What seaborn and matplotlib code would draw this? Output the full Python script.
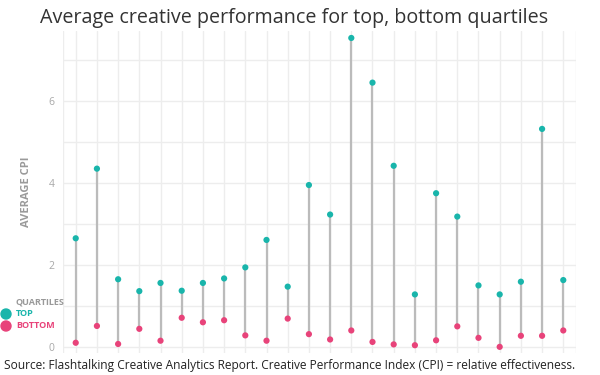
import matplotlib
matplotlib.use("Agg")
import matplotlib.pyplot as plt
import seaborn as sns
import pandas as pd
import numpy as np

# ---- data ----
creatives = list(range(1, 25))
top_cpi = [2.65, 4.35, 1.65, 1.36, 1.56, 1.37, 1.56, 1.67, 1.94, 2.61, 1.47, 3.95,
           3.23, 7.54, 6.45, 4.42, 1.28, 3.75, 3.18, 1.50, 1.28, 1.59, 5.32, 1.63]
bottom_cpi = [0.10, 0.51, 0.07, 0.44, 0.15, 0.71, 0.60, 0.65, 0.28, 0.15, 0.69, 0.31,
              0.18, 0.40, 0.12, 0.06, 0.04, 0.16, 0.50, 0.22, 0.00, 0.27, 0.27, 0.40]
quartiles = ["TOP", "BOTTOM"]
y_ticks = [0, 2, 4, 6]

TEAL = "#19B5AB"
PINK = "#E8437A"
GRID = "#EDEDED"
FONT = ["Open Sans", "DejaVu Sans"]

sns.set_theme(style="white")
plt.rcParams["font.family"] = FONT

df = pd.DataFrame({
    "creative": creatives * 2,
    "cpi": top_cpi + bottom_cpi,
    "quartile": [quartiles[0]] * len(creatives) + [quartiles[1]] * len(creatives),
})

fig = plt.figure(figsize=(6, 3.75), dpi=100)
W, H = 600, 375
left_px, right_px, top_px, bot_px = 63, 576, 31, 353
ax = fig.add_axes([left_px / W, 1 - bot_px / H, (right_px - left_px) / W, (bot_px - top_px) / H])

# grid
for v in range(0, 8):
    ax.axhline(v, color=GRID, lw=1.0, zorder=0)
for c in creatives:
    ax.axvline(c, color=GRID, lw=1.0, zorder=0)
ax.axvline(creatives[0] - 0.6, color=GRID, lw=1.0, zorder=0)
ax.axvline(creatives[-1] + 0.6, color=GRID, lw=1.0, zorder=0)

# stems
ax.vlines(creatives, bottom_cpi, top_cpi, color="#BBBBBB", lw=1.6, zorder=1)

sns.scatterplot(data=df, x="creative", y="cpi", hue="quartile",
                palette={quartiles[0]: TEAL, quartiles[1]: PINK},
                s=20, edgecolor="none", ax=ax, zorder=3, legend=False)

ax.set_xlim(creatives[0] - 0.6, creatives[-1] + 0.6)
ax.set_ylim(-0.15, 7.71)
ax.set_xticks([])
ax.set_yticks(y_ticks)
ax.set_yticklabels([str(t) for t in y_ticks], color="#A8A8A8", fontsize=7.5)
ax.tick_params(axis="y", length=0, pad=6)
ax.set_xlabel("")
ax.set_ylabel("AVERAGE CPI", color="#9A9A9A", fontsize=8, fontweight="bold", labelpad=12)
for s in ax.spines.values():
    s.set_visible(False)

fig.text(0.49, 1 - 18 / H, "Average creative performance for top, bottom quartiles",
         ha="center", va="center", fontsize=14.2, color="#333333")
fig.text(4 / W, 1 - 365 / H,
         "Source: Flashtalking Creative Analytics Report. Creative Performance Index (CPI) = relative effectiveness.",
         ha="left", va="center", fontsize=8.6, color="#222222")

# legend
fig.text(16 / W, 1 - 302 / H, "QUARTILES", ha="left", va="center", fontsize=6.5,
         fontweight="bold", color="#999999")
for i, (lab, col) in enumerate(zip(quartiles, [TEAL, PINK])):
    yy = 1 - (314 + 12 * i) / H
    fig.patches.append(matplotlib.patches.Ellipse((6 / W, yy), 10 / W, 10 / H, transform=fig.transFigure,
                                                  color=col, figure=fig))
    fig.text(16 / W, yy, lab, ha="left", va="center", fontsize=6.5, fontweight="bold", color=col)

fig.savefig("out.png", dpi=100, facecolor="white")
